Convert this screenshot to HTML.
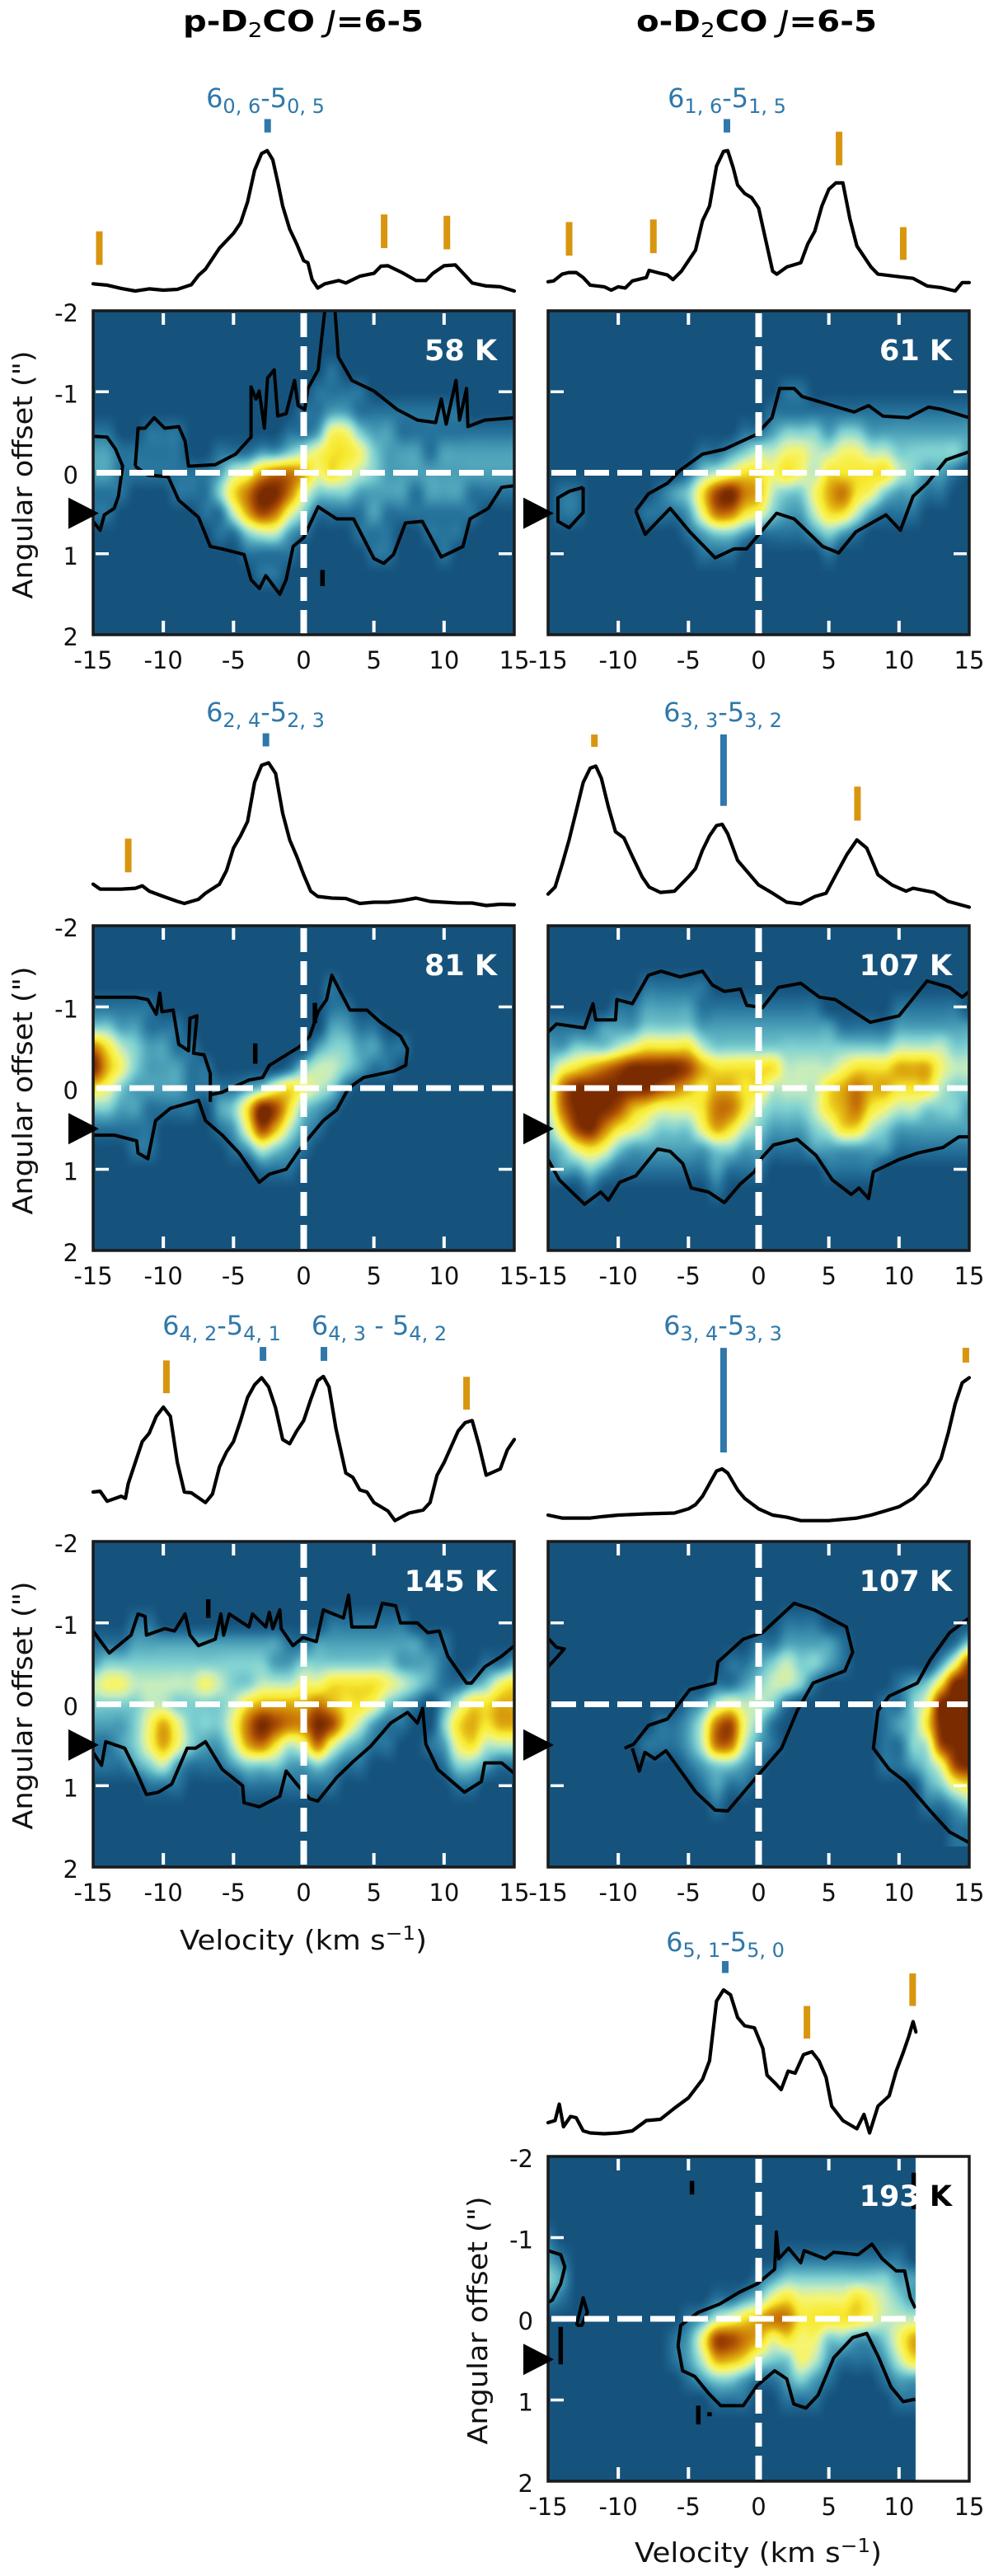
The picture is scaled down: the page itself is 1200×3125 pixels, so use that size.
<!DOCTYPE html>
<html lang="en">
<head>
<meta charset="utf-8">
<title>D2CO J=6-5 position-velocity diagrams</title>
<style>
html,body{margin:0;padding:0;background:#fff;}
#fig{position:relative;width:1200px;height:3125px;overflow:hidden;background:#fff;font-family:"DejaVu Sans","Liberation Sans",sans-serif;}
canvas{position:absolute;display:block;}
svg{position:absolute;left:0;top:0;}
text{font-family:"DejaVu Sans","Liberation Sans",sans-serif;}
</style>
</head>
<body>
<div id="fig">
<svg id="ov" width="1200" height="3125" viewBox="0 0 1200 3125">
  <g id="marks"></g>
  <text x="368" y="38" text-anchor="middle" font-size="36" font-weight="700" fill="#000" textLength="292" lengthAdjust="spacingAndGlyphs">p-D<tspan font-size="25" font-weight="400" dy="7">2</tspan><tspan dy="-7">CO </tspan><tspan font-style="italic" font-weight="400">J</tspan>=6-5</text>
  <text x="918" y="38" text-anchor="middle" font-size="36" font-weight="700" fill="#000" textLength="292" lengthAdjust="spacingAndGlyphs">o-D<tspan font-size="25" font-weight="400" dy="7">2</tspan><tspan dy="-7">CO </tspan><tspan font-style="italic" font-weight="400">J</tspan>=6-5</text>

  <g fill="#2f78a9" font-size="32" text-anchor="middle">
    <text x="322" y="130">6<tspan font-size="24" dy="7">0, 6</tspan><tspan dy="-7">-5</tspan><tspan font-size="24" dy="7">0, 5</tspan></text>
    <text x="882" y="130">6<tspan font-size="24" dy="7">1, 6</tspan><tspan dy="-7">-5</tspan><tspan font-size="24" dy="7">1, 5</tspan></text>
    <text x="322" y="875">6<tspan font-size="24" dy="7">2, 4</tspan><tspan dy="-7">-5</tspan><tspan font-size="24" dy="7">2, 3</tspan></text>
    <text x="877" y="875">6<tspan font-size="24" dy="7">3, 3</tspan><tspan dy="-7">-5</tspan><tspan font-size="24" dy="7">3, 2</tspan></text>
    <text x="269" y="1619">6<tspan font-size="24" dy="7">4, 2</tspan><tspan dy="-7">-5</tspan><tspan font-size="24" dy="7">4, 1</tspan></text>
    <text x="460" y="1619">6<tspan font-size="24" dy="7">4, 3</tspan><tspan dy="-7"> - 5</tspan><tspan font-size="24" dy="7">4, 2</tspan></text>
    <text x="877" y="1619">6<tspan font-size="24" dy="7">3, 4</tspan><tspan dy="-7">-5</tspan><tspan font-size="24" dy="7">3, 3</tspan></text>
    <text x="880" y="2367">6<tspan font-size="24" dy="7">5, 1</tspan><tspan dy="-7">-5</tspan><tspan font-size="24" dy="7">5, 0</tspan></text>
  </g>

  <g font-size="33" fill="#111" text-anchor="middle">
    <text transform="translate(39,576) rotate(-90)" textLength="301" lengthAdjust="spacingAndGlyphs">Angular offset (")</text>
    <text transform="translate(39,1323) rotate(-90)" textLength="301" lengthAdjust="spacingAndGlyphs">Angular offset (")</text>
    <text transform="translate(39,2069) rotate(-90)" textLength="301" lengthAdjust="spacingAndGlyphs">Angular offset (")</text>
    <text transform="translate(591,2815) rotate(-90)" textLength="301" lengthAdjust="spacingAndGlyphs">Angular offset (")</text>
    <text x="368" y="2365" textLength="300" lengthAdjust="spacingAndGlyphs">Velocity (km s<tspan font-size="23" dy="-12">−1</tspan><tspan dy="12">)</tspan></text>
    <text x="920" y="3108" textLength="300" lengthAdjust="spacingAndGlyphs">Velocity (km s<tspan font-size="23" dy="-12">−1</tspan><tspan dy="12">)</tspan></text>
  </g>
</svg>
</div>
<script>
// ---------- shared axis data ----------
const xTickLabels = [-15,-10,-5,0,5,10,15];
const yTickLabels = [-2,-1,0,1,2];
const innerXTicks = [-10,-5,5,10];
const innerYTicks = [-1,1];
const sourceOffset = [0.5];
const gridOffsets = [-1.5,-1.25,-1,-0.75,-0.5,-0.25,0,0.25,0.5,0.75,1,1.25,1.5];
const gridVelocities = [-15,-14,-13,-12,-11,-10,-9,-8,-7,-6,-5,-4,-3,-2,-1,0,1,2,3,4,5,6,7,8,9,10,11,12,13,14,15];

// ---------- spectra: velocity (km/s) and intensity (arbitrary units) ----------
const specA_v = [-15,-14,-13,-12,-11,-10,-9,-8,-7.5,-7,-6,-5,-4.5,-4,-3.5,-3,-2.6,-2.2,-1.8,-1.5,-1,-.5,0,.3,.6,1,1.5,2.5,3,4,5,5.5,6,7,8,8.7,9.2,10,10.8,11.5,12,13,14,15];
const specA_i = [17,14,6,0,5,2,4,15,37,52,102,137,162,212,287,327,334,312,252,202,147,112,72,67,27,7,17,25,19,35,42,59,60,44,25,25,42,60,62,37,19,12,10,0];
const specB_v = [-15,-14.6,-14,-13.5,-13,-12.5,-12,-11,-10.5,-10,-9.5,-9,-8,-7.8,-7,-6.5,-6.1,-5.5,-5,-4.5,-4,-3.5,-3,-2.5,-2.2,-1.8,-1.5,-1,-.5,0,.5,1,1.3,2,3,3.5,4,4.5,5,5.5,6,6.5,7,7.5,8,8.5,10,11,12,13,14,14.5,15];
const specB_i = [22,24,40,44,44,32,14,10,2,10,7,24,32,49,42,38,27,47,72,97,167,202,297,332,334,292,252,232,222,197,122,47,40,57,67,112,142,202,242,257,257,172,107,82,57,40,34,30,12,8,0,20,20];
const specC_v = [-15,-14.5,-13,-12,-11.5,-11,-10,-9,-8.5,-8,-7.5,-7,-6,-5.5,-5,-4.5,-4,-3.5,-3,-2.5,-2,-1.5,-1,-.5,0,.5,1,2,3,4,5,6,7,8,9,10,11,12,13,14,15];
const specC_i = [50,38,38,40,46,33,20,8,3,8,13,28,50,83,138,168,203,298,340,346,320,223,158,118,73,33,20,16,15,3,6,6,10,16,8,6,4,4,-2,1,0];
const specD_v = [-15,-14.5,-14,-13.5,-13,-12.5,-12,-11.6,-11.2,-10.7,-10.2,-9.6,-9,-8.3,-7.8,-7,-6,-5,-4.5,-4,-3.5,-3,-2.6,-2.2,-1.5,-1,0,1,2,3,4,4.8,5.5,6.3,7,7.7,8.5,9.5,10.5,11,12.5,13.5,15];
const specD_i = [33,50,105,165,235,305,340,345,315,245,185,170,125,75,50,37,40,75,95,140,175,200,203,180,115,95,55,35,13,9,27,35,80,130,165,145,80,55,40,47,37,15,1];
const specE_v = [-15,-14.5,-14,-13,-12.7,-12.5,-12,-11.5,-11,-10.5,-10,-9.5,-9,-8.5,-8,-7,-6.5,-6,-5.5,-5,-4.5,-4,-3.5,-3,-2.5,-2,-1.5,-1,-.5,0,.5,1,1.4,1.8,2.3,3,3.5,4,4.5,5,6,6.5,7.5,8.5,9,9.5,10,11,11.5,12,12.5,13,14,14.5,15];
const specE_i = [70,72,48,60,55,90,140,190,210,250,272,250,140,70,68,45,65,130,165,190,240,295,325,342,320,270,195,185,215,240,290,335,345,320,220,115,105,75,70,45,25,2,20,27,45,110,140,215,235,240,180,110,125,170,195];
const specF_v = [-15,-14,-12,-11,-10,-8,-6,-5,-4.5,-4,-3.5,-3,-2.6,-2.2,-1.5,-1,0,1,2,3,5,7,8,9,10,11,12,12.5,13,13.5,14,14.5,15];
const specF_i = [15,8,8,12,15,18,20,30,40,60,90,120,125,115,75,55,30,15,10,2,2,8,15,25,35,55,90,120,150,210,280,330,342];
const specG_v = [-15,-14.5,-14.2,-13.9,-13.4,-13,-12.5,-12,-11,-10,-9,-8,-7,-6,-5,-4,-3.5,-3,-2.5,-2,-1.5,-1,-.3,.3,.6,1.2,1.6,2.1,2.6,3.2,3.8,4.3,4.8,5.2,6,7,7.5,7.9,8.5,9.3,9.8,10.3,10.7,11,11.2];
const specG_i = [30,35,75,20,45,42,10,5,3,5,10,35,38,65,90,135,180,325,352,340,285,265,260,210,145,125,110,155,150,195,202,180,140,70,35,15,50,5,70,95,155,200,240,275,250];

// line markers: velocity, intensity at lower end, intensity at upper end
const blueMarksA = [[-2.57,377,409]];
const orangeMarksA = [[-14.56,62,142],[5.73,102,182],[10.2,99,179]];
const blueMarksB = [[-2.26,377,409]];
const orangeMarksB = [[-13.5,84,164],[-7.5,90,170],[5.73,299,379],[10.3,74,152]];
const blueMarksC = [[-2.69,386,418]];
const orangeMarksC = [[-12.5,79,161]];
const blueMarksD = [[-2.5,248,422]];
const orangeMarksD = [[-11.7,392,422],[7.04,212,295]];
const blueMarksE = [[-2.9,382,415],[1.44,382,415]];
const orangeMarksE = [[-9.78,305,383],[11.6,266,344]];
const blueMarksF = [[-2.5,164,413]];
const orangeMarksF = [[14.76,378,413]];
const blueMarksG = [[-2.38,393,422]];
const orangeMarksG = [[3.44,234,313],[10.97,313,392]];

// ---------- contours: [velocity, offset] ----------
const contourA = [
 [[-15,-.45],[-14,-.44],[-13.4,-.29],[-12.9,-.08],[-13.2,.29],[-13.5,.44],[-14.2,.52],[-14.5,.71],[-15,.6]],
 [[-12,-.08],[-11.8,-.55],[-11.3,-.55],[-10.65,-.68],[-9.9,-.55],[-8.9,-.57],[-8.45,-.39],[-8.2,-.08],[-6.3,-.1],[-4.85,-.23],[-3.75,-.44],[-3.75,-1.06],[-3.4,-.91],[-3.17,-1.01],[-2.8,-.55],[-2.57,-1.17],[-2.1,-1.27],[-1.85,-.7],[-1.25,-.73],[-.65,-1.14],[-.4,-.83],[.07,-.78],[.3,-1.04],[1.03,-1.27],[1.5,-2]],
 [[2.23,-2],[2.47,-1.43],[3.43,-1.14],[5,-1.01],[6.67,-.78],[8.1,-.65],[9.4,-.62],[9.8,-.91],[10.15,-.6],[10.85,-1.14],[11.1,-.65],[11.6,-1.04],[11.7,-.57],[12.9,-.65],[15,-.68]],
 [[-12,-.08],[-11.1,.03],[-9.65,.05],[-8.9,.34],[-7.5,.55],[-6.65,.91],[-5.8,.94],[-4.25,1.01],[-3.75,1.32],[-3.15,1.43],[-2.7,1.27],[-1.7,1.5],[-1.25,1.32],[-.75,.91],[0,.8],[1.03,.42],[2.35,.57],[3.55,.57],[5,1.06],[5.7,1.12],[6.4,1.01],[7.25,.62],[8.45,.6],[9.8,1.04],[11.35,.91],[11.85,.57],[13.15,.44],[14.1,.18],[15,.16]],
 [[1.34,1.2],[1.34,1.4]]
];
const contourB = [
 [[-12.5,.18],[-12.5,.49],[-13.5,.68],[-14.3,.6],[-14.3,.31],[-13.5,.23],[-12.5,.18]],
 [[-8.76,.47],[-7.85,.26],[-6.5,.13],[-5.6,-.03],[-4,-.23],[-2.44,-.29],[-.18,-.47],[.95,-.68],[1.5,-1.04],[2.53,-1.04],[3.1,-.94],[6.8,-.75],[7.83,-.83],[8.85,-.7],[10.65,-.68],[12.1,-.81],[13.1,-.78],[15,-.68]],
 [[-8.76,.47],[-8.08,.76],[-7.2,.6],[-6.3,.44],[-4.9,.73],[-3.1,1.05],[-1.76,.94],[-.86,.94],[1.28,.5],[2.53,.57],[4.56,.91],[5.7,.99],[6.93,.73],[9.07,.52],[10.1,.71],[11,.29],[12,.13],[13.36,-.16],[15,-.26]]
];
const contourC = [
 [[-15,-1.12],[-13.7,-1.12],[-12,-1.12],[-11.1,-1.09],[-10.5,-.91],[-10.25,-1.17],[-10.1,-.94],[-9.3,-.96],[-8.9,-.54],[-8.2,-.46],[-8.1,-.86],[-7.6,-.89],[-7.85,-.43],[-7.1,-.41],[-6.65,-.18],[-6.65,.17]],
 [[-15,.58],[-13.5,.58],[-11.9,.65],[-11.8,.8],[-11.1,.87],[-10.55,.4],[-9.5,.25],[-7.5,.15],[-7,.4],[-5.8,.58],[-4.6,.8],[-3.17,1.16],[-2.45,1.06],[-1.25,1],[-.05,.7],[1.4,.4],[2.35,.27],[3.2,0],[4.27,-.13],[6.43,-.21],[7.27,-.28],[7.4,-.48],[6.9,-.64],[5.47,-.81],[4.5,-.96],[3.3,-.96],[2.6,-1.19],[2,-1.39],[1.63,-1.09],[1.03,-.94],[.43,-.64],[-.3,-.51],[-2.45,-.28],[-2.93,-.13],[-3.9,-.1],[-5.8,.05],[-6.6,.08]],
 [[-3.45,-.55],[-3.45,-.3]],
 [[.8,-1.05],[.8,-.8]]
];
const contourD = [
 [[-15,-.69],[-14.4,-.79],[-12.4,-.74],[-11.8,-1.04],[-11.6,-.84],[-10.2,-.84],[-10.1,-1.09],[-9,-1.04],[-7.85,-1.39],[-6.95,-1.44],[-5.6,-1.37],[-4,-1.44],[-3.3,-1.27],[-2.44,-1.19],[-1.3,-1.22],[-.85,-1.02],[.27,-.99],[1.4,-1.24],[3,-1.29],[4.33,-1.12],[5.46,-1.09],[7.95,-.81],[10,-.89],[12,-1.32],[13.6,-1.24],[14.5,-1.12],[15,-1.19]],
 [[-15,.88],[-14.2,1.13],[-12.4,1.43],[-11.25,1.28],[-10.7,1.38],[-9.9,1.16],[-8.75,1.08],[-7.2,.75],[-6.3,.78],[-5.4,.93],[-4.8,1.23],[-3.57,1.28],[-2.44,1.41],[-1.3,1.18],[-.3,1.03],[.27,.85],[1.06,.7],[2.75,.63],[4.1,.83],[5.24,1.13],[6.6,1.31],[7.15,1.23],[7.83,1.36],[8.17,1.03],[10,.88],[11.33,.8],[13.14,.73],[14.27,.6],[15,.6]]
];
const contourE = [
 [[-15,-.9],[-13.85,-.63],[-12.3,-.85],[-11.8,-1.11],[-11.3,-1.08],[-11.2,-.85],[-9.9,-.93],[-9.2,-.9],[-8.45,-1.11],[-8.1,-.85],[-7.5,-.72],[-6.3,-.8],[-5.9,-1.11],[-5.7,-.85],[-5.3,-1.11],[-3.9,-.95],[-3.65,-1.11],[-2.7,-.95],[-2.45,-1.13],[-2.2,-.93],[-1.7,-1.16],[-1.6,-.93],[-.77,-.72],[-.05,-.82],[.9,-.77],[1.4,-1.16],[2.83,-1.06],[3.2,-1.34],[3.43,-.95],[5.1,-.95],[5.6,-1.24],[6.55,-1.21],[6.9,-1],[8.1,-1],[8.83,-.88],[9.66,-.9],[10.26,-.59],[11.6,-.26],[11.95,-.26],[12.9,-.46],[14.1,-.59],[15,-.72]],
 [[-15,.59],[-14.4,.75],[-14.1,.46],[-12.75,.54],[-12,.8],[-11.2,1.11],[-10.35,1.08],[-9.4,.98],[-8.3,.54],[-7.7,.54],[-7,.46],[-5.8,.8],[-4.35,1],[-4.25,1.21],[-3.15,1.26],[-1.7,1.13],[-1.25,.82],[-.4,1],[.43,1.16],[1,1.19],[2.35,.9],[3.55,.7],[4.75,.52],[6.2,.23],[7.4,.1],[8.1,.23],[8.47,.05],[8.7,.49],[9.55,.8],[11.45,1.08],[12.66,.95],[12.9,.72],[14.1,.72],[15,.85]],
 [[-6.8,-1.29],[-6.8,-1.06]]
];
const contourF = [
 [[-15,-.81],[-14.4,-.7],[-13.85,-.68],[-14.3,-.59],[-15,-.46]],
 [[-9.55,.54],[-8.9,.49],[-7.85,.26],[-6.5,.18],[-4.9,-.18],[-3.1,-.26],[-2.9,-.52],[-1.1,-.8],[.27,-.88],[2.53,-1.24],[3.97,-1.16],[6.25,-.95],[6.7,-.64],[6.14,-.41],[3.88,-.26],[2.75,.08],[1.63,.54],[-.18,.9],[-2.2,1.31],[-3.1,1.3],[-4.47,1.08],[-6.6,.57],[-7.4,.67],[-8.1,.59],[-8.5,.82],[-9,.54]],
 [[15,-1.06],[13.6,-.88],[12.2,-.54],[11.3,-.26],[9.3,-.1],[8.5,.08],[8.17,.54],[9.3,.8],[10.43,.95],[12.23,1.31],[13.6,1.57],[15,1.7]]
];
const contourG = [
 [[-15,-.84],[-14.1,-.79],[-13.8,-.64],[-14.1,-.43],[-14.7,-.23],[-15,-.2]],
 [[-12.97,.08],[-12.5,-.26],[-12.2,-.08],[-12.6,.08],[-12.97,.08]],
 [[-14.1,.1],[-14.1,.56]],
 [[-4.75,-1.7],[-4.75,-1.53]],
 [[-4.3,1.07],[-4.3,1.3]],
 [[-3.5,1.15],[-3.5,1.2]],
 [[11.05,-1.8],[11.05,-1.35]],
 [[-5.74,.33],[-5.55,.08],[-4.3,-.08],[-2.8,-.18],[-1.35,-.33],[-.1,-.43],[1.14,-.61],[1.26,-1.07],[1.43,-.74],[2.13,-.87],[3,-.69],[3.24,-.84],[4.73,-.74],[5.35,-.82],[7.08,-.79],[8.07,-.92],[8.8,-.74],[9.8,-.59],[10.4,-.59],[10.8,-.26],[11.16,-.13]],
 [[-5.74,.33],[-5.42,.64],[-4.55,.71],[-3.56,.92],[-2.7,1.07],[-1.1,1.07],[-.1,.82],[1.14,.64],[2,.74],[2.5,1.05],[3.37,1.1],[4.23,.94],[5.35,.48],[6.7,.23],[7.7,.18],[8.56,.48],[9.43,.84],[10.3,1.02],[11.16,.99]]
];

// ---------- heatmap levels (0-10): one row per gridOffsets, one value per gridVelocities ----------
const Z = [0];
const gridA = [
 Z,
 [0,0,0,0,0,0,0,0,0,0,0,0,0,0,0,0,0,1,0],
 [0,0,0,0,0,0,0,0,0,0,0,0,0,0,0,0,1,1,1,1],
 [0,0,0,0,0,0,0,0,0,0,0,0,0,0,0,1,1,2,2,1,1,1,1,1,1,1,1,0,0,0,0],
 [1,1,0,0,1,1,1,0,0,0,0,0,0,0,1,1,2,5,5,3,2,2,1,1,1,1,1,1,1,1,1],
 [2,2,1,1,1,1,1,0,0,1,1,1,2,2,3,4,5,6,6,5,3,2,2,2,1,2,2,2,2,2,2],
 [2,2,1,1,1,1,1,1,1,2,4,5,7,8,8,7,5,6,5,4,3,2,2,2,2,2,2,2,2,2,2],
 [1,1,1,0,0,0,1,1,1,3,6,8,10,10,8,5,3,3,3,2,2,2,2,1,2,2,2,1,1,1,1],
 [1,1,0,0,0,0,0,0,1,1,4,7,9,8,5,3,1,1,1,1,2,1,1,1,1,1,1,1,0,0,0],
 [0,0,0,0,0,0,0,0,0,1,1,3,4,4,2,1,0,0,0,1,1,1,0,0,1,1,1,0,0,0,0],
 [0,0,0,0,0,0,0,0,0,0,0,1,1,1,1,0,0,0,0,0,1,1,0,0,0,1,0,0,0,0,0],
 [0,0,0,0,0,0,0,0,0,0,0,0,1,1,0],
 Z
];
const gridB = [
 Z,
 Z,
 [0,0,0,0,0,0,0,0,0,0,0,0,0,0,0,0,0,1,1,0],
 [0,0,0,0,0,0,0,0,0,0,0,0,0,0,0,0,1,1,1,1,1,1,1,1,1,1,1,1,1,1,1],
 [0,0,0,0,0,0,0,0,0,0,0,0,0,0,1,1,2,3,3,3,2,3,3,2,2,2,2,2,2,2,2],
 [0,0,0,0,0,0,0,0,0,0,0,1,1,2,3,4,4,5,5,4,4,5,5,4,4,3,3,3,3,3,2],
 [0,0,0,0,0,0,0,0,0,0,1,3,4,5,6,6,5,6,5,4,6,6,6,6,6,4,3,2,2,1,0],
 [0,1,1,0,0,0,0,0,1,2,3,6,9,10,8,7,4,3,3,5,7,8,6,5,3,2,2,1,1,0,0],
 [0,1,1,0,0,0,0,1,1,1,2,5,8,8,6,5,3,2,2,4,6,6,4,2,1,1,1,0,0,0,0],
 [0,0,0,0,0,0,0,0,0,0,1,2,3,3,2,1,1,1,1,2,3,2,1,0],
 [0,0,0,0,0,0,0,0,0,0,0,1,1,1,0,0,0,0,0,0,1,0],
 Z,
 Z
];
const gridC = [
 Z,
 [0,0,0,0,0,0,0,0,0,0,0,0,0,0,0,0,0,1,0],
 [1,1,1,1,1,0,0,0,0,0,0,0,0,0,0,0,0,1,1,0],
 [3,3,2,2,1,1,1,0,0,0,0,0,0,0,0,0,0,2,2,1,1,0],
 [8,6,4,3,2,2,1,1,0,0,0,0,0,0,0,0,2,3,3,2,2,1,1,0],
 [10,7,5,3,2,2,2,1,1,0,0,0,0,0,1,3,4,4,3,2,1,1,0],
 [6,5,3,2,2,2,2,1,1,1,1,2,3,5,6,5,4,3,1,0],
 [3,3,2,2,1,1,1,1,0,2,3,6,10,9,6,3,2,1,0],
 [1,1,1,1,1,0,0,0,0,1,2,5,9,7,4,2,1,0],
 [0,0,0,1,1,0,0,0,0,0,1,2,4,3,2,1,0],
 [0,0,0,0,0,0,0,0,0,0,0,0,1,1,1,0],
 Z,
 Z
];
const gridD = [
 Z,
 [0,0,0,0,0,0,0,1,1,1,1,1,0],
 [0,0,0,0,0,1,1,2,2,2,2,1,1,1,1,1,1,1,1,1,0,0,0,0,0,1,1,1,1,1,0],
 [1,1,1,1,2,2,2,3,3,3,3,2,2,2,2,2,2,2,2,2,2,1,1,1,1,2,2,2,2,2,2],
 [2,2,3,3,3,4,5,6,6,6,6,4,3,3,3,3,3,3,3,3,3,3,3,3,3,4,4,4,4,3,3],
 [3,5,6,7,8,9,10,10,10,10,9,7,6,6,6,6,6,4,4,4,4,5,6,6,6,7,7,7,5,4,4],
 [4,8,10,10,10,10,10,10,9,8,7,6,7,7,6,6,4,4,4,4,6,7,8,7,7,6,6,6,4,3,3],
 [4,8,10,10,10,9,7,6,5,5,5,6,8,8,6,4,3,3,3,4,6,7,8,6,5,4,4,3,3,3,2],
 [3,6,9,10,8,6,5,4,3,3,3,5,7,6,4,3,2,2,2,3,4,6,6,4,3,2,2,2,2,2,2],
 [2,3,5,6,5,3,2,2,2,2,2,2,3,3,2,2,1,1,1,2,2,2,2,2,2,1,1,1,1,1,1],
 [1,2,2,3,2,1,1,1,1,1,1,1,2,1,1,1,0,0,0,0,1,1,1,1,0],
 [0,0,0,1,0,0,0,0,0,0,0,0,1,0],
 Z
];
const gridE = [
 Z,
 Z,
 [0,0,0,1,1,0,0,0,0,0,0,0,0,0,0,0,0,1,1,1,1,1,1,0],
 [1,1,1,2,2,2,2,2,2,2,2,2,2,2,1,1,2,2,2,2,2,2,2,2,1,1,0,0,0,0,0],
 [2,3,3,3,3,3,3,3,3,3,3,3,3,2,2,3,3,3,3,3,3,3,2,2,2,1,0,0,1,1,2],
 [4,5,5,4,4,4,4,4,5,4,3,3,4,4,4,5,5,6,6,6,6,5,4,3,2,1,1,2,3,5,6],
 [3,3,3,3,4,4,3,3,3,3,4,6,7,7,7,7,8,7,6,6,5,3,2,1,0,2,4,6,6,7,7],
 [2,2,2,3,5,7,5,3,3,3,5,8,10,9,8,8,10,9,6,4,2,1,1,0,0,3,6,7,6,7,7],
 [1,1,2,3,5,7,5,3,2,2,4,7,8,6,4,5,8,5,3,2,1,1,0,0,1,2,5,6,4,4,4],
 [1,1,1,2,3,4,2,1,1,1,2,3,3,3,2,2,3,2,1,1,0,0,0,0,0,1,3,3,2,1,1],
 [0,0,0,0,1,1,1,0,0,0,0,1,1,1,1,1,1,1,0,0,0,0,0,0,0,0,1,1,0],
 Z,
 Z
];
const gridF = [
 Z,
 Z,
 [0,0,0,0,0,0,0,0,0,0,0,0,0,0,0,0,0,1,1,1,0],
 [0,0,0,0,0,0,0,0,0,0,0,0,0,0,0,1,1,2,2,2,2,1,0,0,0,0,0,0,0,1,3],
 [0,0,0,0,0,0,0,0,0,0,0,0,0,1,1,2,3,4,3,3,2,1,0,0,0,0,0,0,2,5,9],
 [0,0,0,0,0,0,0,0,0,0,0,0,1,1,2,3,4,4,3,1,0,0,0,0,0,1,2,3,6,10,10],
 [0,0,0,0,0,0,0,0,0,0,1,2,4,5,4,4,3,1,0,0,0,0,0,0,1,1,3,5,10,10,10],
 [0,0,0,0,0,0,0,0,1,1,2,4,8,9,5,3,1,0,0,0,0,0,0,0,1,2,3,6,10,10,10],
 [0,0,0,0,0,0,0,1,1,1,2,4,8,8,4,2,1,0,0,0,0,0,0,0,1,1,3,4,9,10,10],
 [0,0,0,0,0,0,0,0,0,0,1,2,3,3,2,1,0,0,0,0,0,0,0,0,1,1,2,3,5,9,10],
 [0,0,0,0,0,0,0,0,0,0,0,1,2,1,1,0,0,0,0,0,0,0,0,0,0,0,0,2,3,5,6],
 [0,0,0,0,0,0,0,0,0,0,0,0,1,0,0,0,0,0,0,0,0,0,0,0,0,0,0,1,1,2,3],
 [0,0,0,0,0,0,0,0,0,0,0,0,0,0,0,0,0,0,0,0,0,0,0,0,0,0,0,0,0,1,1]
];
const gridG = [
 Z,
 Z,
 [1,0],
 [2,1,0,0,0,0,0,0,0,0,0,0,0,0,0,0,0,1,1,1,1,1,1,1,1,1,0],
 [3,2,0,0,0,0,0,0,0,0,0,0,0,0,0,1,2,3,3,3,3,3,3,3,3,2,2,1,1,1,1],
 [2,1,0,0,0,0,0,0,0,0,0,0,1,1,2,3,5,6,5,5,5,5,6,5,4,3,2,2,2,2,2],
 [0,0,0,0,0,0,0,0,0,0,1,2,4,5,6,7,8,8,6,6,6,6,6,5,4,4,4,4,4,4,4],
 [0,0,0,0,0,0,0,0,0,1,2,5,9,9,8,7,5,6,5,5,3,3,2,2,3,5,7,7,7,7,7],
 [0,0,0,0,0,0,0,0,0,1,2,4,7,7,6,4,3,3,5,4,2,1,1,1,2,4,6,6,6,6,6],
 [0,0,0,0,0,0,0,0,0,0,1,2,3,3,2,1,1,2,3,2,1,0,0,0,1,2,2,2,2,2,2],
 [0,0,0,0,0,0,0,0,0,0,0,0,1,1,1,0,0,1,1,1,0,0,0,0,0,1,1,1,1,1,1],
 Z,
 Z
];

// ---------- colour ramp ----------
const rampStops = [[21,83,125],[38,115,156],[75,160,184],[128,210,210],[196,236,192],[246,245,112],[248,234,48],[223,174,16],[202,122,8],[166,74,4],[122,44,0]];

// ---------- panel layout ----------
const panels = [
 {id:'a',left:113,right:624,top:377,bottom:770,base:353,scale:.51,v:specA_v,i:specA_i,blue:blueMarksA,orange:orangeMarksA,contours:contourA,grid:gridA,temp:'58 K',vEnd:15,yLabels:true,xLabels:true},
 {id:'b',left:665,right:1176,top:377,bottom:770,base:353,scale:.51,v:specB_v,i:specB_i,blue:blueMarksB,orange:orangeMarksB,contours:contourB,grid:gridB,temp:'61 K',vEnd:15,yLabels:false,xLabels:true},
 {id:'c',left:113,right:624,top:1123,bottom:1517,base:1097.5,scale:.4975,v:specC_v,i:specC_i,blue:blueMarksC,orange:orangeMarksC,contours:contourC,grid:gridC,temp:'81 K',vEnd:15,yLabels:true,xLabels:true},
 {id:'d',left:665,right:1176,top:1123,bottom:1517,base:1101,scale:.4975,v:specD_v,i:specD_i,blue:blueMarksD,orange:orangeMarksD,contours:contourD,grid:gridD,temp:'107 K',vEnd:15,yLabels:false,xLabels:true},
 {id:'e',left:113,right:624,top:1870,bottom:2265,base:1845.7,scale:.51,v:specE_v,i:specE_i,blue:blueMarksE,orange:orangeMarksE,contours:contourE,grid:gridE,temp:'145 K',vEnd:15,yLabels:true,xLabels:true},
 {id:'f',left:665,right:1176,top:1870,bottom:2265,base:1845.7,scale:.51,v:specF_v,i:specF_i,blue:blueMarksF,orange:orangeMarksF,contours:contourF,grid:gridF,temp:'107 K',vEnd:15,yLabels:false,xLabels:true},
 {id:'g',left:665,right:1176,top:2616,bottom:3010,base:2590,scale:.5,v:specG_v,i:specG_i,blue:blueMarksG,orange:orangeMarksG,contours:contourG,grid:gridG,temp:'193 K',vEnd:11.2,yLabels:true,xLabels:true}
];

const NS = 'http://www.w3.org/2000/svg';
const marksLayer = document.getElementById('marks');
const fig = document.getElementById('fig');
const defs = document.createElementNS(NS,'defs');
marksLayer.appendChild(defs);

function svgEl(tag, attrs, parent){
  const el = document.createElementNS(NS, tag);
  for (const k in attrs) el.setAttribute(k, attrs[k]);
  (parent || marksLayer).appendChild(el);
  return el;
}
function cubic(a,b,c,d,t){
  return b + 0.5*t*(c-a + t*(2*a-5*b+4*c-d + t*(3*(b-c)+d-a)));
}
function cell(grid,r,c){
  r = Math.max(0,Math.min(gridOffsets.length-1,r));
  c = Math.max(0,Math.min(gridVelocities.length-1,c));
  const row = grid[r];
  return (row && row[c]) || 0;
}
function sample(grid,fr,fc){
  const r0 = Math.floor(fr), c0 = Math.floor(fc);
  const tr = fr-r0, tc = fc-c0, rows = [];
  for (let j=-1;j<=2;j++){
    rows.push(cubic(cell(grid,r0+j,c0-1),cell(grid,r0+j,c0),cell(grid,r0+j,c0+1),cell(grid,r0+j,c0+2),tc));
  }
  return cubic(rows[0],rows[1],rows[2],rows[3],tr);
}
function rampColor(val){
  const x = Math.max(0,Math.min(rampStops.length-1,val));
  const i = Math.min(rampStops.length-2,Math.floor(x)), t = x-i;
  const a = rampStops[i], b = rampStops[i+1];
  return [a[0]+(b[0]-a[0])*t,a[1]+(b[1]-a[1])*t,a[2]+(b[2]-a[2])*t];
}

panels.forEach(function(p){
  const X = function(v){ return p.left + (v+15)/30*(p.right-p.left); };
  const Y = function(o){ return p.top + (o+2)/4*(p.bottom-p.top); };
  const SY = function(val){ return p.base - val*p.scale; };
  const W = p.right-p.left, H = p.bottom-p.top;

  // heatmap
  const cv = document.createElement('canvas');
  cv.width = W; cv.height = H;
  cv.style.left = p.left+'px'; cv.style.top = p.top+'px';
  
  
  const ctx = cv.getContext('2d');
  const img = ctx.createImageData(W,H);
  for (let y=0;y<H;y++){
    const o = -2 + (y+.5)/H*4;
    const fr = (o-gridOffsets[0])/(gridOffsets[1]-gridOffsets[0]);
    for (let x=0;x<W;x++){
      const v = -15 + (x+.5)/W*30;
      const idx = (y*W+x)*4;
      if (v>p.vEnd){ img.data[idx]=255;img.data[idx+1]=255;img.data[idx+2]=255;img.data[idx+3]=255;continue; }
      const fc = v+15;
      const val = (fr<-1||fr>gridOffsets.length) ? 0 : sample(p.grid,fr,fc);
      const col = rampColor(val);
      img.data[idx]=col[0];img.data[idx+1]=col[1];img.data[idx+2]=col[2];img.data[idx+3]=255;
    }
  }
  ctx.putImageData(img,0,0);
  fig.insertBefore(cv, fig.firstChild);

  // clip
  const clip = svgEl('clipPath',{id:'clip-'+p.id},defs);
  svgEl('rect',{x:p.left,y:p.top,width:X(p.vEnd)-p.left,height:H},clip);

  // contours
  p.contours.forEach(function(path){
    const c = svgEl('polyline',{points:path.map(function(q){return X(q[0]).toFixed(1)+','+Y(q[1]).toFixed(1);}).join(' '),fill:'none',stroke:'#000','stroke-width':path.length<3?5.5:4,'stroke-linejoin':'round','clip-path':'url(#clip-'+p.id+')'});
    
    
  });

  // dashed reference lines
  const hd = svgEl('line',{x1:p.left+4,x2:X(p.vEnd),y1:Y(0),y2:Y(0),stroke:'#fff','stroke-width':7,'stroke-dasharray':'30 10'});
  
  
  const vd = svgEl('line',{x1:X(0),x2:X(0),y1:p.top+3,y2:p.bottom,stroke:'#fff','stroke-width':8,'stroke-dasharray':'29 11'});
  
  

  // inner ticks
  innerXTicks.forEach(function(t){
    [[p.top+3,p.top+17],[p.bottom-17,p.bottom-3]].forEach(function(e){
      const tk = svgEl('line',{x1:X(t),x2:X(t),y1:e[0],y2:e[1],stroke:'#fff','stroke-width':4});
      
      
    });
  });
  innerYTicks.forEach(function(t){
    const sides = p.vEnd<15 ? [[p.left+3,p.left+19]] : [[p.left+3,p.left+19],[p.right-19,p.right-3]];
    sides.forEach(function(e){
      const tk = svgEl('line',{x1:e[0],x2:e[1],y1:Y(t),y2:Y(t),stroke:'#fff','stroke-width':3.5});
      
      
    });
  });

  // frame
  const fr = svgEl('rect',{x:p.left,y:p.top,width:W,height:H,fill:'none',stroke:'#1a1a1a','stroke-width':3.5});
  
  

  // source arrow
  sourceOffset.forEach(function(o){
    const ty = Y(o);
    const tri = svgEl('polygon',{points:(p.left-30)+','+(ty-19)+' '+(p.left+7)+','+ty+' '+(p.left-30)+','+(ty+19),fill:'#000'});
    
    
  });

  // temperature label
  const tmp = svgEl('text',{x:p.right-21,y:p.top+60,'text-anchor':'end','font-size':35,'font-weight':700,fill:p.vEnd<15?'#000':'#fff'});
  
  
  if (p.vEnd<15){
    const parts = p.temp.split(' ');
    const a = svgEl('tspan',{fill:'#fff'},tmp); a.textContent = parts[0];
    const b = svgEl('tspan',{fill:'#000'},tmp); b.textContent = ' '+parts[1];
  } else {
    tmp.textContent = p.temp;
  }

  // tick labels
  xTickLabels.forEach(function(t){
    const l = svgEl('text',{x:X(t),y:p.bottom+41,'text-anchor':'middle','font-size':29,fill:'#111'});
    
    
    l.textContent = t;
  });
  if (p.yLabels){
    yTickLabels.forEach(function(t){
      const l = svgEl('text',{x:p.left-18,y:Y(t)+13,'text-anchor':'end','font-size':29,fill:'#111'});
      
      
      l.textContent = t;
    });
  }

  // spectrum
  const sp = svgEl('polyline',{points:p.v.map(function(v,k){return X(v).toFixed(1)+','+SY(p.i[k]).toFixed(1);}).join(' '),fill:'none',stroke:'#000','stroke-width':4.2,'stroke-linejoin':'round','stroke-linecap':'round'});
  
  

  p.blue.forEach(function(m){
    const b = svgEl('line',{x1:X(m[0]),x2:X(m[0]),y1:SY(m[1]),y2:SY(m[2]),stroke:'#2f78a9','stroke-width':8});
    
    
  });
  p.orange.forEach(function(m){
    const o = svgEl('line',{x1:X(m[0]),x2:X(m[0]),y1:SY(m[1]),y2:SY(m[2]),stroke:'#d8960f','stroke-width':8});
    
    
  });
});
</script>
</body>
</html>
